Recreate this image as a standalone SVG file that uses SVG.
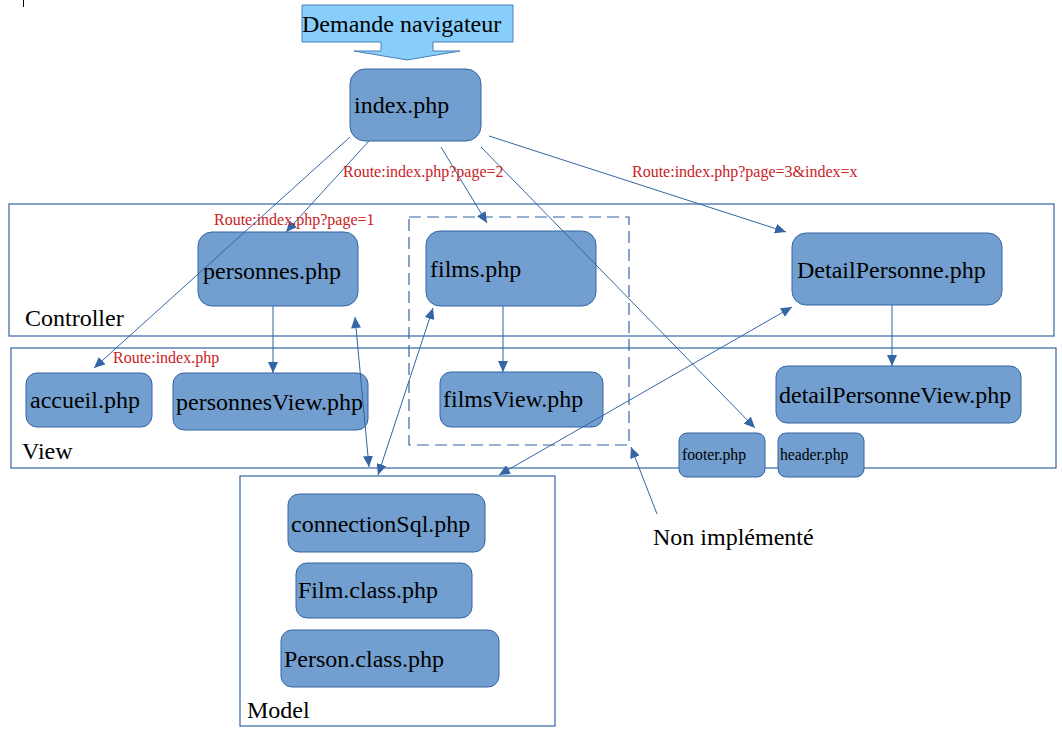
<svg xmlns="http://www.w3.org/2000/svg" width="1062" height="736" viewBox="0 0 1062 736">
<style>
.node{fill:#729FCF;stroke:#3465A4;stroke-width:1}
.frame{fill:none;stroke:#3465A4;stroke-width:1.2}
.t{font-family:"Liberation Serif",serif;font-size:24px;fill:#000}
.s{font-family:"Liberation Serif",serif;font-size:15.7px;fill:#000}
.r{font-family:"Liberation Serif",serif;font-size:16px;fill:#C9211E}
.c{fill:none;stroke:#3465A4;stroke-width:1}
</style>
<defs>
<marker id="ah" markerUnits="userSpaceOnUse" markerWidth="12" markerHeight="10" refX="11" refY="5" orient="auto">
<path d="M0,0 L11,5 L0,10 z" fill="#3465A4"/>
</marker>
<marker id="as" markerUnits="userSpaceOnUse" markerWidth="12" markerHeight="10" refX="0" refY="5" orient="auto">
<path d="M11,0 L0,5 L11,10 z" fill="#3465A4"/>
</marker>
</defs>
<rect width="1062" height="736" fill="#fff"/>
<line x1="23.5" y1="0" x2="23.5" y2="7" stroke="#000" stroke-width="1"/>

<g id="frames">
<rect id="controller-frame" class="frame" x="9" y="204" width="1045" height="132"/>
<text class="t" x="25" y="326">Controller</text>
<rect id="view-frame" class="frame" x="11" y="348" width="1045" height="120"/>
<text class="t" x="22" y="459">View</text>
<rect id="model-frame" class="frame" x="240" y="476" width="315" height="250"/>
<text class="t" x="247" y="718">Model</text>
<rect id="non-impl-frame" x="409" y="217" width="220" height="228" fill="none" stroke="#3465A4" stroke-width="1.2" stroke-dasharray="12,6"/>
</g>

<g id="demande">
<path d="M302,5 H513 V42 H433 V51 H460 L407,60 L354,51 H381 V42 H302 Z" fill="#87CEFA" stroke="#4A7EBB" stroke-width="1"/>
<text class="t" x="302" y="32">Demande navigateur</text>
</g>

<g id="index"><rect class="node" x="350" y="69" width="131" height="72" rx="15"/><text class="t" x="354" y="113">index.php</text></g>
<g id="personnes"><rect class="node" x="198" y="232" width="160" height="74" rx="14"/><text class="t" x="203" y="279">personnes.php</text></g>
<g id="films"><rect class="node" x="426" y="231" width="170" height="75" rx="14"/><text class="t" x="430" y="277">films.php</text></g>
<g id="detailpersonne"><rect class="node" x="792" y="233" width="210" height="72" rx="14"/><text class="t" x="797" y="278">DetailPersonne.php</text></g>
<g id="accueil"><rect class="node" x="26" y="373" width="126" height="54" rx="11"/><text class="t" x="30" y="408">accueil.php</text></g>
<g id="personnesview"><rect class="node" x="173" y="373" width="195" height="57" rx="11"/><text class="t" x="176" y="410">personnesView.php</text></g>
<g id="filmsview"><rect class="node" x="440" y="372" width="163" height="55" rx="11"/><text class="t" x="443" y="407">filmsView.php</text></g>
<g id="detailpersonneview"><rect class="node" x="776" y="366" width="245" height="57" rx="11"/><text class="t" x="779" y="403">detailPersonneView.php</text></g>
<g id="footer"><rect class="node" x="679" y="433" width="86" height="44" rx="8"/><text class="s" x="682" y="460">footer.php</text></g>
<g id="header"><rect class="node" x="778" y="433" width="86" height="44" rx="8"/><text class="s" x="780" y="460">header.php</text></g>
<g id="connectionsql"><rect class="node" x="288" y="494" width="197" height="58" rx="11"/><text class="t" x="291" y="532">connectionSql.php</text></g>
<g id="filmclass"><rect class="node" x="296" y="563" width="176" height="55" rx="11"/><text class="t" x="298" y="598">Film.class.php</text></g>
<g id="personclass"><rect class="node" x="281" y="630" width="218" height="57" rx="11"/><text class="t" x="284" y="667">Person.class.php</text></g>

<g id="connectors">
<line class="c" x1="350" y1="137" x2="94" y2="368" marker-end="url(#ah)"/>
<line class="c" x1="369" y1="141" x2="286" y2="232" marker-end="url(#ah)"/>
<line class="c" x1="441" y1="147" x2="487" y2="223" marker-end="url(#ah)"/>
<line class="c" x1="481" y1="147" x2="755" y2="428" marker-end="url(#ah)"/>
<line class="c" x1="489" y1="136" x2="786" y2="232" marker-end="url(#ah)"/>
<line class="c" x1="273" y1="306" x2="273" y2="373" marker-end="url(#ah)"/>
<line class="c" x1="503" y1="306" x2="503" y2="372" marker-end="url(#ah)"/>
<line class="c" x1="892" y1="305" x2="892" y2="366" marker-end="url(#ah)"/>
<line class="c" x1="355" y1="317" x2="369" y2="467" marker-start="url(#as)" marker-end="url(#ah)"/>
<line class="c" x1="433" y1="308" x2="378" y2="475" marker-start="url(#as)" marker-end="url(#ah)"/>
<line class="c" x1="792" y1="307" x2="499" y2="475" marker-start="url(#as)" marker-end="url(#ah)"/>
<line class="c" x1="657" y1="514" x2="631" y2="447" marker-end="url(#ah)"/>
</g>

<g id="labels">
<text class="r" x="343" y="177">Route:index.php?page=2</text>
<text class="r" x="214" y="225">Route:index.php?page=1</text>
<text class="r" x="632" y="177">Route:index.php?page=3&amp;index=x</text>
<text class="r" x="113" y="363">Route:index.php</text>
<text class="t" x="653" y="545">Non implémenté</text>
</g>
</svg>
